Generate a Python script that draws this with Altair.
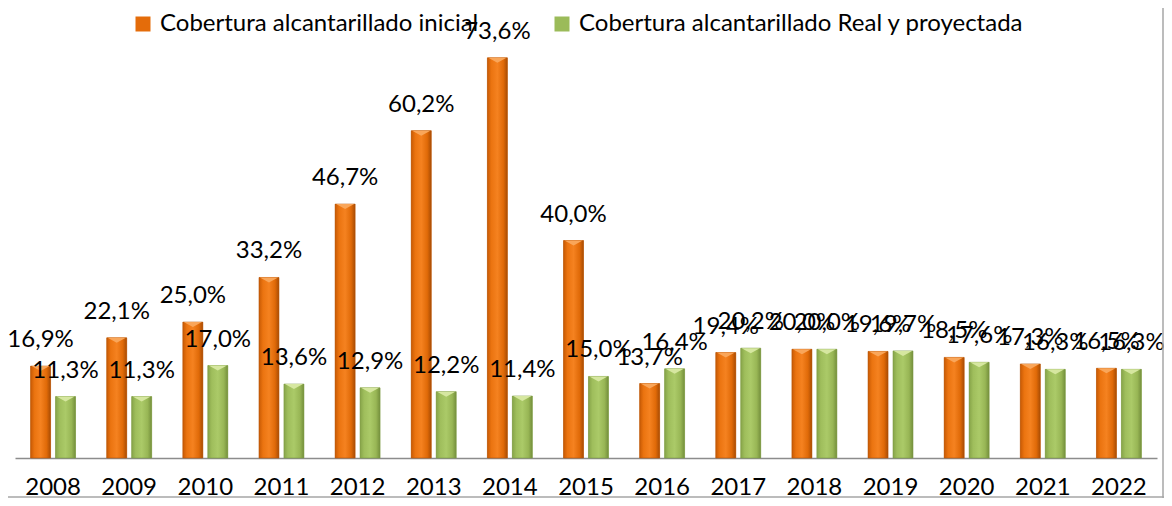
import altair as alt
import pandas as pd

years = [str(y) for y in range(2008, 2023)]
inicial = [16.9, 22.1, 25.0, 33.2, 46.7, 60.2, 73.6, 40.0, 13.7, 19.4, 20.0, 19.6, 18.5, 17.3, 16.5]
real = [11.3, 11.3, 17.0, 13.6, 12.9, 12.2, 11.4, 15.0, 16.4, 20.2, 20.0, 19.7, 17.6, 16.3, 16.3]
series = ["Cobertura alcantarillado inicial", "Cobertura alcantarillado Real y proyectada"]
colors = ["#E46C0A", "#9BBB59"]

rows = []
for y, a, b in zip(years, inicial, real):
    rows.append({"year": y, "serie": series[0], "value": a})
    rows.append({"year": y, "serie": series[1], "value": b})
df = pd.DataFrame(rows)

FONT = "Lato"
FS = 24
W, H = 1142, 435

x_enc = alt.X("year:N", sort=years,
              scale=alt.Scale(paddingInner=0.41, paddingOuter=0.205),
              axis=alt.Axis(title=None, labelAngle=0, labelFont=FONT, labelFontSize=FS,
                            labelColor="black", ticks=False, domainColor="#8c8c8c",
                            domainWidth=1.5, labelPadding=17, grid=False))
xo_enc = alt.XOffset("serie:N", sort=series, scale=alt.Scale(paddingInner=0.2, paddingOuter=0))
y_enc = alt.Y("value:Q", scale=alt.Scale(domain=[0, 80], nice=False), axis=None)

base = alt.Chart(df).encode(x=x_enc, xOffset=xo_enc, y=y_enc)

bars = base.mark_bar().encode(
    color=alt.Color("serie:N", sort=series,
                    scale=alt.Scale(domain=series, range=colors),
                    legend=alt.Legend(title=None, orient="none", legendX=116, legendY=-11,
                                      direction="horizontal", symbolType="square",
                                      symbolSize=225, symbolStrokeWidth=0,
                                      labelFont=FONT, labelFontSize=FS, labelColor="black",
                                      labelOffset=5, columnPadding=71, labelLimit=0,
                                      padding=0))
)

def grad(stops):
    return alt.LinearGradient(gradient="linear", x1=0, x2=1, y1=0, y2=0,
                              stops=[alt.GradientStop(offset=o, color=c) for o, c in stops])

g_orange = grad([(0, "#C85A04"), (0.2, "#EB7410"), (0.5, "#F58220"), (0.8, "#E06A08"), (1, "#A84C04")])
g_green = grad([(0, "#86A449"), (0.2, "#9FBE5C"), (0.5, "#ABCA68"), (0.8, "#98B655"), (1, "#748F3C")])

bar_o = base.transform_filter(alt.datum.serie == series[0]).mark_bar(fill=g_orange, stroke="#B5560A", strokeWidth=0.6)
bar_g = base.transform_filter(alt.datum.serie == series[1]).mark_bar(fill=g_green, stroke="#7E9A45", strokeWidth=0.6)

tri_shape = "M -1 0 L 1 0 L 0 0.55 Z"
tri_o = base.transform_filter(alt.datum.serie == series[0]).mark_point(
    shape=tri_shape, size=330, filled=True, opacity=1, strokeWidth=0, color="#F9A65A")
tri_g = base.transform_filter(alt.datum.serie == series[1]).mark_point(
    shape=tri_shape, size=330, filled=True, opacity=1, strokeWidth=0, color="#D6E7A0")

labels = base.transform_calculate(
    lab="replace(format(datum.value, '.1f'), '.', ',') + '%'"
).mark_text(dy=-26, font=FONT, fontSize=FS, color="black", baseline="middle").encode(text="lab:N")

one = pd.DataFrame({"a": [0]})
border_b = alt.Chart(one).mark_rule(color="#a6a6a6", strokeWidth=1.5).encode(
    x=alt.value(-7), x2=alt.value(W + 7), y=alt.value(H + 39))
border_r = alt.Chart(one).mark_rule(color="#a6a6a6", strokeWidth=1.5).encode(
    x=alt.value(W + 6), y=alt.value(-15), y2=alt.value(H + 40))

chart = alt.layer(bars, bar_o, bar_g, tri_o, tri_g, labels, border_b, border_r).properties(
    width=W, height=H,
    padding={"left": 7, "top": 15, "right": 7, "bottom": 40},
    autosize=alt.AutoSizeParams(type="none"),
).configure_view(stroke=None)

chart.save("out.html", embed_options={"renderer": "svg", "actions": False})
